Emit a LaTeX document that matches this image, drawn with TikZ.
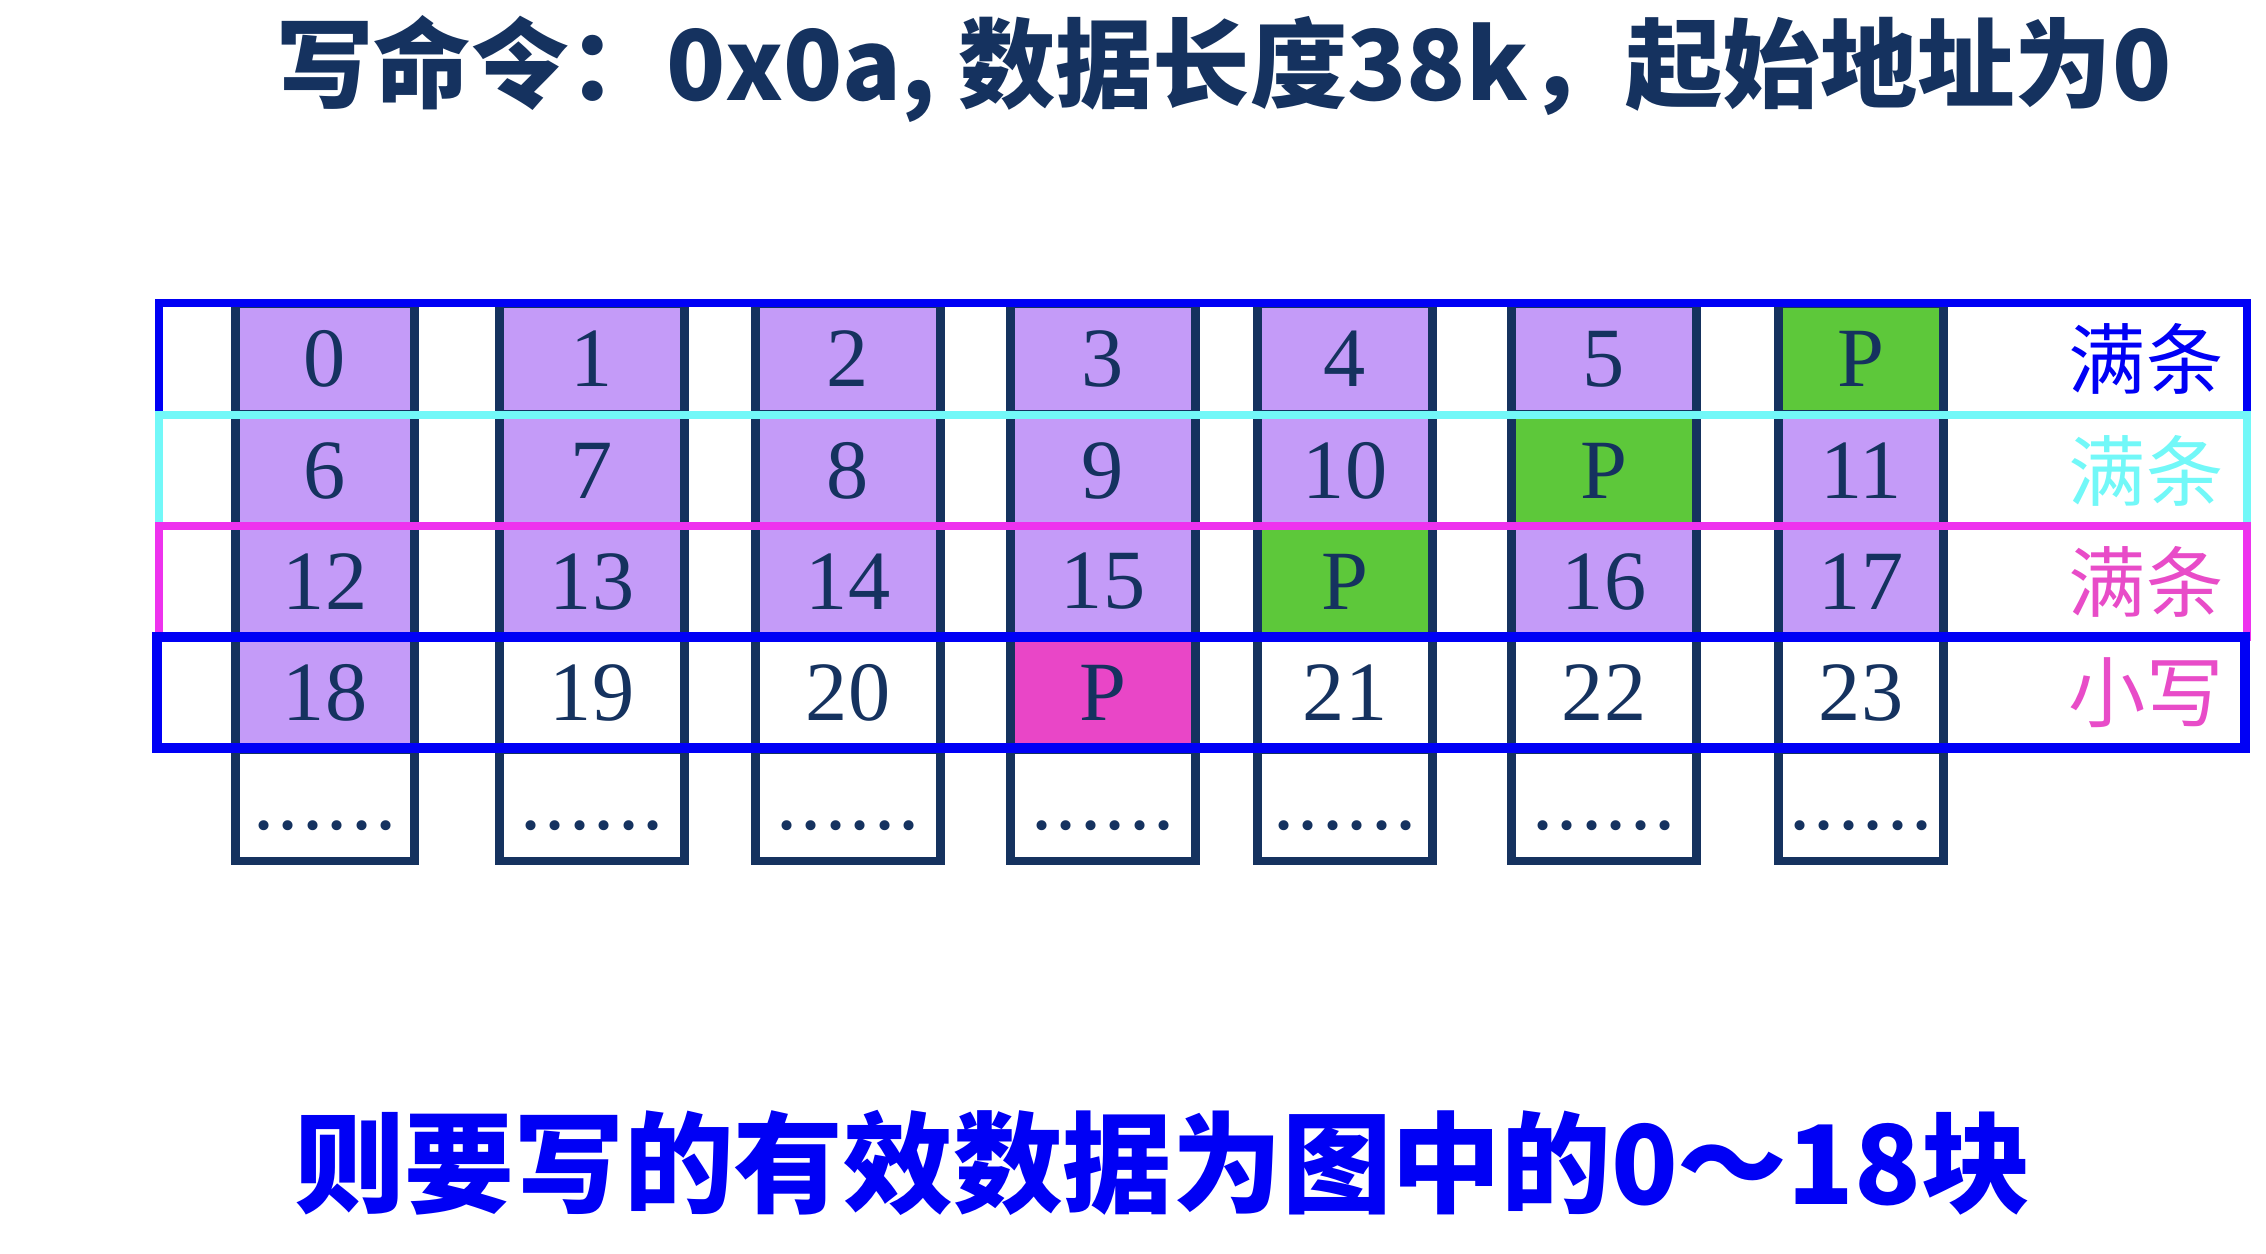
\documentclass[tikz,border=0pt]{standalone}
\usepackage{fontspec}
\setmainfont{Liberation Serif}
\newfontfamily\cjk{Noto Sans CJK SC}
\usetikzlibrary{positioning}

\definecolor{navy}{HTML}{15325F}
\definecolor{cpurple}{HTML}{C49BF8}
\definecolor{cgreen}{HTML}{5DC83A}
\definecolor{cpink}{HTML}{E946C7}
\definecolor{rblue}{HTML}{0000F5}
\definecolor{rcyan}{HTML}{72F8F8}
\definecolor{rmagenta}{HTML}{EE32EE}
\definecolor{lmagenta}{HTML}{E84CC8}

\def\colx{{3.25,5.92,8.48,11.03,13.45,16.04,18.61}}
\def\colw{{1.79,1.85,1.85,1.85,1.75,1.85,1.65}}

\tikzset{
  cellbox/.style={draw=navy,line width=2.4pt,minimum height=1.11cm,
    inner sep=0pt,text=navy,font=\fontsize{24}{24}\selectfont},
  rowbox/.style={line width=2.2pt},
  rowlabel/.style={font=\cjk\fontsize{22}{22}\selectfont,anchor=center}
}

\begin{document}
\begin{tikzpicture}
  \useasboundingbox (0,0) rectangle (22.66,-12.54);

  \node[font=\cjk\bfseries\fontsize{27.7}{28}\selectfont,text=navy] (title) at (12.24,-0.69)
    {写命令：0x0a, 数据长度38k，起始地址为0};

  % cells, row by row
  \foreach \row/\y/\cells in {a/-3.59/{0/0/cpurple,1/1/cpurple,2/2/cpurple,3/3/cpurple,4/4/cpurple,5/5/cpurple,6/P/cgreen},
      b/-4.705/{0/6/cpurple,1/7/cpurple,2/8/cpurple,3/9/cpurple,4/10/cpurple,5/P/cgreen,6/11/cpurple},
      c/-5.815/{0/12/cpurple,1/13/cpurple,2/14/cpurple,3/15/cpurple,4/P/cgreen,5/16/cpurple,6/17/cpurple},
      d/-6.925/{0/18/cpurple,1/19/white,2/20/white,3/P/cpink,4/21/white,5/22/white,6/23/white}} {
    \foreach \c/\t/\f in \cells {
      \pgfmathsetmacro\cx{\colx[\c]}
      \pgfmathsetmacro\cw{\colw[\c]}
      \node[cellbox,fill=\f,minimum width=\cw cm] (\row\c) at (\cx,\y) {\t};
    }
  }
  \foreach \c in {0,...,6} {
    \pgfmathsetmacro\cx{\colx[\c]}
    \pgfmathsetmacro\cw{\colw[\c]}
    \node[cellbox,fill=white,minimum width=\cw cm] (e\c) at (\cx,-8.055)
      {\raisebox{-0.5cm}{\addfontfeature{LetterSpace=4}......}};
  }

  % stripes
  \draw[rowbox,rblue]    (1.59,-3.03) rectangle (22.47,-4.15);
  \draw[rowbox,rcyan]    (1.59,-4.15) rectangle (22.47,-5.26);
  \draw[rowbox,rmagenta] (1.59,-5.26) rectangle (22.47,-6.37);
  \draw[rowbox,rblue,line width=2.8pt] (1.57,-6.37) rectangle (22.45,-7.48);

  \node[rowlabel,text=rblue]    (full1) at (21.46,-3.59)  {满条};
  \node[rowlabel,text=rcyan]    (full2) at (21.46,-4.705) {满条};
  \node[rowlabel,text=lmagenta] (full3) at (21.46,-5.815) {满条};
  \node[rowlabel,text=lmagenta] (small) at (21.46,-6.925) {小写};

  \node[font=\cjk\bfseries\fontsize{31.2}{32}\selectfont,text=rblue] (result) at (11.63,-11.63)
    {则要写的有效数据为图中的0～18块};
\end{tikzpicture}
\end{document}
